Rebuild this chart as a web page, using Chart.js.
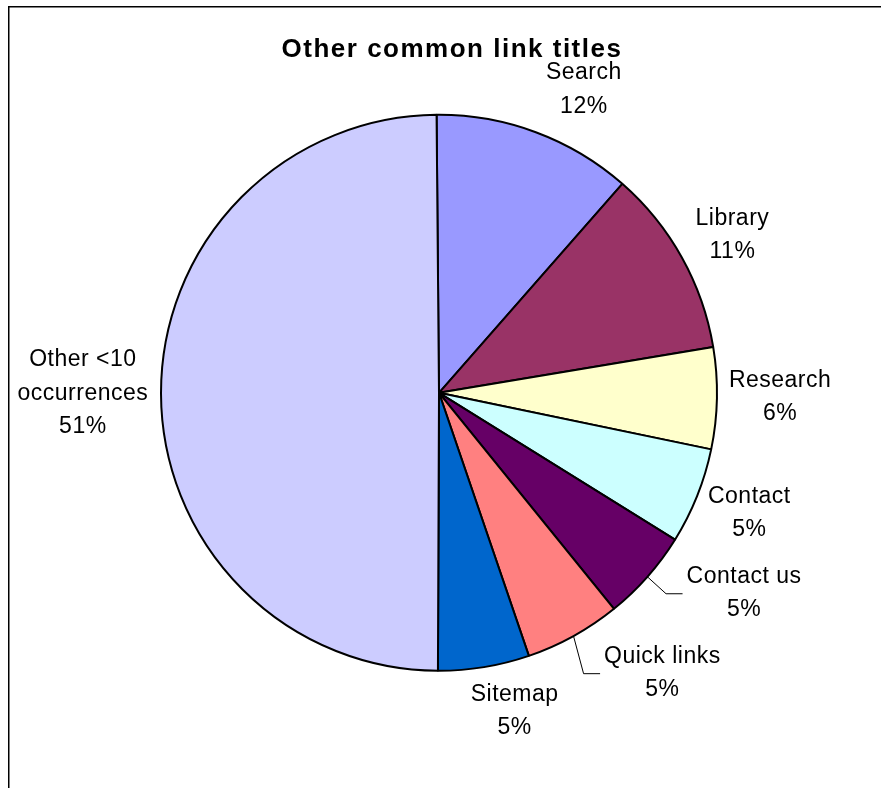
<!DOCTYPE html>
<html>
<head>
    <title>Other common link titles</title>
    <script type="text/javascript" src="https://cdn.jsdelivr.net/npm/chart.js@4/dist/chart.umd.min.js"></script>
    <style type="text/css">
        body { margin: 0; background: #ffffff; }
        #chart-container { width: 881px; height: 788px; }
    </style>
</head>
<body>
    <div id="chart-container">
        <canvas id="mycanvas" width="881" height="788"></canvas>
    </div>

    <script>
        // data (share of links, in %)
        var categories = ["Search", "Library", "Research", "Contact", "Contact us", "Quick links", "Sitemap", "Other <10 occurrences"];
        var shares = [11.6, 10.9, 5.9, 5.6, 5.3, 5.6, 5.3, 49.8];
        var percentLabels = ["12%", "11%", "6%", "5%", "5%", "5%", "5%", "51%"];
        var sliceColors = ["#9999FF", "#993366", "#FFFFCC", "#CCFFFF", "#660066", "#FF8080", "#0066CC", "#CCCCFF"];

        // where each label block sits: [distance in radii, angle clockwise from top], leader line or not
        var labelPlacement = [
            [1.215, 25.4, false],
            [1.201, 61.5, false],
            [1.227, 90.4, false],
            [1.195, 110.9, false],
            [1.309, 123.05, true],
            [1.284, 141.25, true],
            [1.170, 166.55, false],
            [1.281, 270.2, false]
        ];

        var labelFont = '23px "Liberation Sans", Arial, sans-serif';
        var lineGap = 33.5;

        function wrapText(ctx, text, maxW) {
            var words = text.split(" ");
            var lines = [];
            var cur = "";
            for (var i = 0; i < words.length; i++) {
                var test = cur ? cur + " " + words[i] : words[i];
                if (cur && ctx.measureText(test).width > maxW) {
                    lines.push(cur);
                    cur = words[i];
                } else {
                    cur = test;
                }
            }
            lines.push(cur);
            return lines;
        }

        var framePlugin = {
            id: "frame",
            beforeDraw: function (chart) {
                var ctx = chart.ctx;
                ctx.save();
                ctx.strokeStyle = "#000000";
                ctx.lineWidth = 1.5;
                ctx.beginPath();
                ctx.moveTo(8.75, 790);
                ctx.lineTo(8.75, 6.75);
                ctx.lineTo(884, 6.75);
                ctx.stroke();
                ctx.restore();
            },
            afterDraw: function (chart) {
                var ctx = chart.ctx;
                ctx.save();
                // title
                ctx.fillStyle = "#000000";
                ctx.font = 'bold 26px "Liberation Sans", Arial, sans-serif';
                if ("letterSpacing" in ctx) ctx.letterSpacing = "1.5px";
                ctx.textAlign = "center";
                ctx.textBaseline = "alphabetic";
                ctx.fillText("Other common link titles", 452, 57);

                // slice labels
                ctx.font = labelFont;
                if ("letterSpacing" in ctx) ctx.letterSpacing = "0.5px";
                var arcs = chart.getDatasetMeta(0).data;
                for (var i = 0; i < arcs.length; i++) {
                    var p = arcs[i].getProps(["x", "y", "startAngle", "endAngle", "outerRadius"], true);
                    var pl = labelPlacement[i];
                    var a = (pl[1] - 90) * Math.PI / 180;
                    var cx = p.x + Math.cos(a) * p.outerRadius * pl[0];
                    var cy = p.y + Math.sin(a) * p.outerRadius * pl[0];
                    var lines = wrapText(ctx, categories[i], 140);
                    lines.push(percentLabels[i]);
                    var n = lines.length;
                    var b1 = cy - ((n - 1) * lineGap - 16.5) / 2;
                    var maxW = 0;
                    for (var j = 0; j < n; j++) {
                        ctx.fillText(lines[j], cx, b1 + j * lineGap);
                        maxW = Math.max(maxW, ctx.measureText(lines[0]).width);
                    }
                    if (pl[2]) {
                        // leader line from the middle of the slice rim to the label
                        var mid = (p.startAngle + p.endAngle) / 2;
                        var sx = p.x + Math.cos(mid) * p.outerRadius;
                        var sy = p.y + Math.sin(mid) * p.outerRadius;
                        var left = cx - maxW / 2;
                        ctx.strokeStyle = "#000000";
                        ctx.lineWidth = 1;
                        ctx.beginPath();
                        ctx.moveTo(sx, sy);
                        ctx.lineTo(left - 20.5, cy + 2.5);
                        ctx.lineTo(left - 4, cy + 2.5);
                        ctx.stroke();
                    }
                }
                ctx.restore();
            }
        };

        var chartdata = {
            labels: categories,
            datasets: [
                {
                    data: shares,
                    backgroundColor: sliceColors,
                    borderColor: "#000000",
                    borderWidth: 2,
                },
            ],
        };

        var ctx = document.getElementById("mycanvas");

        var pieGraph = new Chart(ctx, {
            type: "pie",
            data: chartdata,
            options: {
                responsive: false,
                devicePixelRatio: 1,
                animation: false,
                rotation: -0.5,
                layout: {
                    padding: { top: 113.8, bottom: 116.2, left: 160, right: 163 }
                },
                plugins: {
                    legend: { display: false },
                    tooltip: { enabled: false },
                    title: { display: false }
                }
            },
            plugins: [framePlugin]
        });
    </script>
</body>
</html>
